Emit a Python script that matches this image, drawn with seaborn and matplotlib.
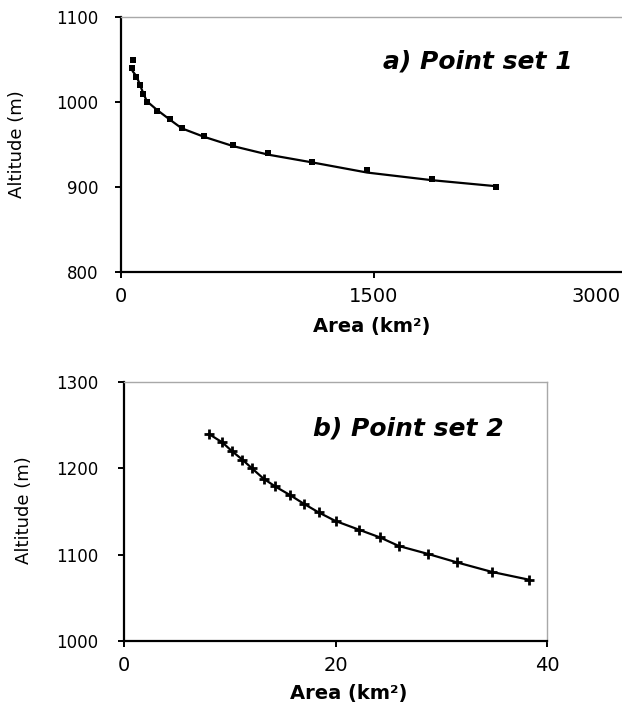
import matplotlib
matplotlib.use('Agg')
import matplotlib.pyplot as plt
import matplotlib.transforms as mtransforms
import seaborn as sns

# Point set 1 : points mesurés + courbe ajustée
area_1 = [70, 65, 90, 110, 130, 155, 215, 290, 365, 495, 665, 875, 1135, 1460, 1850, 2230]
alt_1 = [1050, 1040, 1030, 1020, 1010, 1000, 990, 980, 970, 960, 950, 940, 930, 920, 910, 900]
fit_area_1 = [58, 70, 93, 109, 129, 153, 212, 292, 361, 494, 668, 876, 1134, 1462, 1848, 2225]
fit_alt_1 = [1042, 1036, 1030, 1022, 1012, 1001, 991, 979, 969, 959, 948, 938, 929, 917, 908, 901]

# Point set 2
area_2 = [8.0, 9.3, 10.2, 11.2, 12.1, 13.2, 14.3, 15.7, 17.0, 18.4, 20.0, 22.2, 24.2, 26.0,
          28.7, 31.5, 34.8, 38.3]
alt_2 = [1240, 1230, 1220, 1210, 1200, 1188, 1179, 1169, 1159, 1149, 1139, 1129, 1120, 1110,
         1101, 1091, 1080, 1071]

xticks_1 = [0, 1500, 3000]
yticks_1 = [800, 900, 1000, 1100]
xticks_2 = [0, 20, 40]
yticks_2 = [1000, 1100, 1200, 1300]

sns.set_theme(style="ticks")
plt.rcParams['font.family'] = ['DejaVu Sans']
plt.rcParams['text.color'] = 'black'
plt.rcParams['axes.labelcolor'] = 'black'
plt.rcParams['xtick.color'] = 'black'
plt.rcParams['ytick.color'] = 'black'

W, H = 622, 708
fig = plt.figure(figsize=(W / 100, H / 100), dpi=100)


def px_axes(left, right, top, bottom):
    return fig.add_axes([left / W, (H - bottom) / H, (right - left) / W, (bottom - top) / H])


def style_axes(ax, ypad, xpad, show_right):
    for side in ['left', 'bottom']:
        ax.spines[side].set_color('black')
        ax.spines[side].set_linewidth(1.6)
    ax.spines['top'].set_color('#a8a8a8')
    ax.spines['top'].set_linewidth(1.0)
    ax.spines['right'].set_visible(show_right)
    ax.spines['right'].set_color('#a8a8a8')
    ax.spines['right'].set_linewidth(1.0)
    ax.tick_params(axis='both', direction='out', length=4.5, width=1.4, color='black',
                   labelcolor='black')
    ax.tick_params(axis='y', labelsize=12, pad=ypad)
    ax.tick_params(axis='x', labelsize=14, pad=xpad)
    ax.set_facecolor('white')


# ---- a) Point set 1
ax1 = px_axes(121, 626, 17, 272)
sns.lineplot(x=fit_area_1, y=fit_alt_1, color='black', linewidth=1.6, sort=False, ax=ax1)
sns.scatterplot(x=area_1, y=alt_1, marker='s', s=20, color='black', linewidth=0, ax=ax1)
ax1.set_xlim(0, 3000)
ax1.set_ylim(800, 1100)
ax1.set_xticks(xticks_1)
ax1.set_yticks(yticks_1)
style_axes(ax1, ypad=12, xpad=6, show_right=False)
ax1.set_ylabel('Altitude (m)', fontsize=13, color='black')
ax1.set_xlabel('Area (km²)', fontsize=14, fontweight='bold', color='black')
ax1.yaxis.set_label_coords(-0.188, 0.5)
ax1.xaxis.set_label_coords(0.497, -0.175)
ax1.text(0.707, 0.827, 'a) Point set 1', transform=ax1.transAxes, fontsize=18,
         fontweight='bold', fontstyle='italic', ha='center', va='center', color='black')
last = ax1.get_xticklabels()[-1]
last.set_horizontalalignment('right')
last.set_transform(last.get_transform()
                   + mtransforms.ScaledTranslation(-5 / 100, 0, fig.dpi_scale_trans))

# ---- b) Point set 2
ax2 = px_axes(124, 547, 382, 641)
sns.lineplot(x=area_2, y=alt_2, color='black', linewidth=1.6, marker='+',
             markersize=7, markeredgewidth=2.0, markeredgecolor='black', ax=ax2)
ax2.set_xlim(0, 40)
ax2.set_ylim(1000, 1300)
ax2.set_xticks(xticks_2)
ax2.set_yticks(yticks_2)
style_axes(ax2, ypad=14, xpad=6, show_right=True)
ax2.set_ylabel('Altitude (m)', fontsize=13, color='black')
ax2.set_xlabel('Area (km²)', fontsize=14, fontweight='bold', color='black')
ax2.yaxis.set_label_coords(-0.215, 0.506)
ax2.xaxis.set_label_coords(0.53, -0.165)
ax2.text(0.671, 0.822, 'b) Point set 2', transform=ax2.transAxes, fontsize=18,
         fontweight='bold', fontstyle='italic', ha='center', va='center', color='black')

fig.savefig('out.png', dpi=100, facecolor='white')
